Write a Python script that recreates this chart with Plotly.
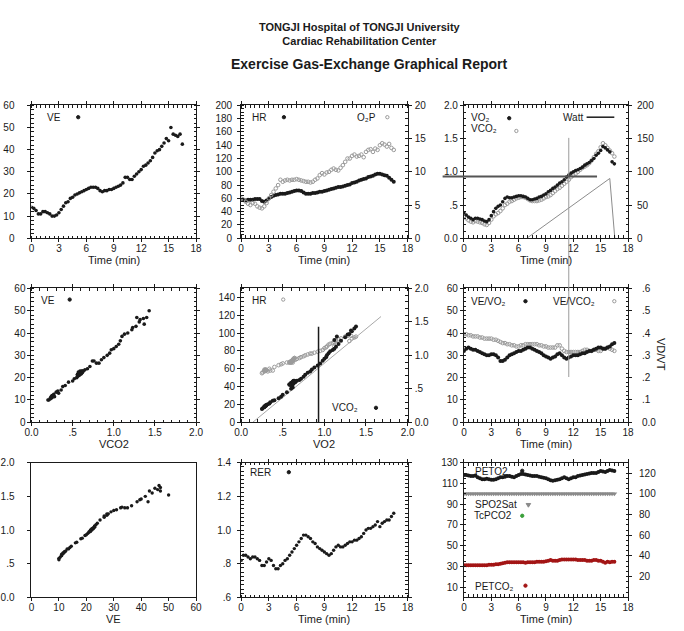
import plotly.graph_objects as go

time_min = [0, 0.25, 0.5, 0.75, 1, 1.25, 1.5, 1.75, 2, 2.25, 2.5, 2.75,
            3, 3.25, 3.5, 3.75, 4, 4.25, 4.5, 4.75, 5, 5.25, 5.5, 5.75,
            6, 6.25, 6.5, 6.75, 7, 7.25, 7.5, 7.75, 8, 8.25, 8.5, 8.75,
            9, 9.25, 9.5, 9.75, 10, 10.25, 10.5, 10.75, 11, 11.25, 11.5, 11.75,
            12, 12.25, 12.5, 12.75, 13, 13.25, 13.5, 13.75, 14, 14.25, 14.5, 14.75,
            15, 15.25, 15.5, 15.75, 16, 16.25, 16.5]

ve = [14, 13.5, 12.5, 11, 11, 12, 12, 11.5, 11, 10, 10, 10.5,
      11.5, 13, 14.5, 16, 16.5, 18, 18.5, 19.5, 20, 20.5, 21, 21.5,
      22, 22.5, 23, 23, 23, 22.5, 21.5, 21, 21.5, 21.5, 22, 22,
      22.5, 23, 23.5, 24, 25, 27.5, 27.5, 26.5, 26.5, 28, 29, 30,
      31, 32.5, 33, 34, 35, 36.5, 38.5, 39.5, 40, 41.5, 43, 45,
      44, 50, 47, 46.5, 46, 47, 42.5]

hr = [58, 58, 57, 58, 58, 58, 59, 59, 59, 56, 55, 57,
      60, 62, 64, 65, 66, 67, 67, 67, 68, 69, 70, 71,
      72, 72, 71, 69, 67, 67, 67, 68, 68, 69, 70, 70,
      71, 72, 73, 74, 75, 76, 77, 77, 78, 79, 80, 81,
      83, 84, 85, 87, 88, 89, 90, 92, 93, 94, 96, 97,
      97, 96, 95, 94, 91, 88, 85]

o2_pulse = [6.0, 5.8, 5.5, 5.2, 5.0, 5.3, 5.2, 4.8, 4.6, 4.5, 4.8, 5.3,
            6.0, 6.5, 7.0, 7.5, 8.0, 8.8, 8.5, 8.7, 8.8, 8.7, 8.8, 8.8,
            8.9, 8.8, 8.7, 8.6, 8.5, 8.5, 8.4, 8.5, 8.8, 9.0, 9.5, 9.8,
            9.6, 9.9, 10.0, 10.3, 10.5, 10.3, 10.2, 10.6, 11.0, 11.5, 12.0, 12.0,
            12.4, 12.6, 12.3, 12.4, 12.6, 12.2, 13.0, 13.3, 13.4, 13.0, 13.5, 13.3,
            14.0, 14.3, 14.1, 13.8, 14.2, 13.6, 13.3]

vo2 = [0.38, 0.35, 0.32, 0.30, 0.28, 0.30, 0.30, 0.29, 0.28, 0.26, 0.25, 0.28,
       0.34, 0.40, 0.45, 0.48, 0.50, 0.55, 0.60, 0.62, 0.61, 0.61, 0.62, 0.63,
       0.64, 0.64, 0.63, 0.62, 0.60, 0.58, 0.58, 0.59, 0.60, 0.62, 0.63, 0.65,
       0.67, 0.70, 0.72, 0.75, 0.77, 0.80, 0.83, 0.85, 0.88, 0.92, 0.95, 0.98,
       1.00, 1.02, 1.03, 1.05, 1.07, 1.10, 1.12, 1.14, 1.17, 1.20, 1.25, 1.28,
       1.32, 1.38, 1.36, 1.33, 1.30, 1.15, 1.12]

vco2 = [0.32, 0.30, 0.27, 0.25, 0.24, 0.26, 0.25, 0.24, 0.23, 0.21, 0.20, 0.23,
        0.28, 0.33, 0.36, 0.38, 0.41, 0.45, 0.50, 0.52, 0.55, 0.56, 0.58, 0.60,
        0.61, 0.62, 0.62, 0.61, 0.59, 0.57, 0.56, 0.56, 0.56, 0.57, 0.58, 0.60,
        0.62, 0.63, 0.65, 0.68, 0.71, 0.74, 0.76, 0.79, 0.82, 0.85, 0.88, 0.92,
        0.95, 0.97, 1.00, 1.03, 1.06, 1.08, 1.10, 1.13, 1.17, 1.22, 1.27, 1.31,
        1.37, 1.43, 1.40, 1.36, 1.32, 1.28, 1.23]

ve_vo2 = [32, 33, 33.5, 33, 32.5, 32.5, 32, 31.5, 31, 30.5, 30, 30,
          30.5, 30.5, 30, 29, 27.5, 27.5, 28, 29, 30, 30.5, 31, 31.5,
          32, 32, 32.5, 33, 33.5, 33.5, 33, 32.5, 32, 31.5, 31, 30,
          29.5, 29, 28.5, 29, 29.5, 30.5, 31, 30, 29, 28.5, 29, 29.5,
          30, 30, 30, 30.5, 31, 31, 31.5, 32, 32, 32.5, 33, 33.5,
          33.5, 33, 33, 33.5, 34, 35, 35.5]

ve_vco2 = [39.5, 39.5, 39, 39, 38.5, 38.5, 38.5, 38, 38, 37.5, 37.5, 37.5,
           37.5, 37, 37, 36.5, 36, 35.5, 35.5, 35, 35, 34.5, 34.5, 34,
           34, 34.5, 34.5, 35, 35, 35, 35, 35, 35, 34.5, 34.5, 34,
           34, 33.5, 33.5, 33.5, 33.5, 34.5, 34.5, 33, 32, 31.5, 31.5, 31.5,
           31.5, 31.5, 31.5, 31.5, 32, 32.5, 32.5, 32, 32, 32.5, 32.5, 32,
           32, 33, 33, 33.5, 33, 32.5, 32]

rer = [0.82, 0.85, 0.85, 0.84, 0.83, 0.84, 0.84, 0.83, 0.82, 0.79, 0.79, 0.81,
       0.83, 0.82, 0.79, 0.77, 0.77, 0.79, 0.80, 0.82, 0.83, 0.85, 0.87, 0.89,
       0.91, 0.93, 0.95, 0.97, 0.97, 0.96, 0.95, 0.93, 0.92, 0.90, 0.89, 0.88,
       0.87, 0.86, 0.85, 0.86, 0.88, 0.90, 0.91, 0.90, 0.90, 0.91, 0.92, 0.93,
       0.93, 0.94, 0.94, 0.95, 0.96, 0.98, 1.00, 1.01, 1.01, 1.02, 1.03, 1.05,
       1.02, 1.04, 1.05, 1.06, 1.06, 1.08, 1.10]

vt = [0.74, 0.72, 0.69, 0.63, 0.64, 0.67, 0.68, 0.66, 0.62, 0.58, 0.56, 0.60,
      0.65, 0.72, 0.76, 0.81, 0.82, 0.87, 0.88, 0.92, 0.93, 0.95, 0.97, 0.98,
      1.00, 1.02, 1.04, 1.06, 1.05, 1.03, 0.99, 0.97, 1.00, 0.99, 1.01, 1.02,
      1.03, 1.05, 1.08, 1.10, 1.15, 1.22, 1.24, 1.19, 1.21, 1.24, 1.27, 1.29,
      1.30, 1.33, 1.34, 1.33, 1.33, 1.36, 1.42, 1.45, 1.46, 1.50, 1.58, 1.62,
      1.55, 1.52, 1.63, 1.66, 1.60, 1.58, 1.42]

peto2 = [118, 118, 117.5, 117, 117, 117.5, 116, 115, 114, 114, 114.5, 114,
         113.5, 113.5, 114, 115, 116, 116, 116.5, 117, 117, 116.5, 116, 117,
         118, 119, 119, 118.5, 118, 117.5, 117, 117, 117, 116.5, 116, 115.5,
         115, 114, 113, 112.5, 113, 113.5, 114, 115, 116, 115, 114, 115,
         116, 116, 117, 117.5, 118, 118.5, 119, 119.5, 120, 120, 120, 121,
         122, 121.5, 121, 122, 123, 122.5, 122]

petco2 = [31, 31, 31, 31, 31, 31, 31, 31, 31, 31, 31, 31.5,
          31.5, 31.5, 32, 32, 32.5, 33, 33.5, 34, 34, 34, 34, 34,
          34, 34, 34, 33.5, 34, 34, 34, 34, 34.5, 34.5, 34.5, 34.5,
          35, 35.5, 36, 35.5, 35.5, 35.5, 36, 36.5, 36.5, 36.5, 36.5, 36.5,
          36.5, 36.5, 36, 36, 36, 36, 35.5, 35.5, 35.5, 36, 36, 35.5,
          35.5, 34.5, 33.5, 34.5, 34, 34.5, 34.5]

spo2 = [100, 100, 100, 100, 100, 100, 100, 100, 100, 100, 100, 100,
        100, 100, 100, 100, 100, 100, 100, 100, 100, 100, 100, 100,
        100, 100, 100, 100, 100, 100, 100, 100, 100, 100, 100, 100,
        100, 100, 100, 100, 100, 100, 100, 100, 100, 100, 100, 100,
        100, 100, 100, 100, 100, 100, 100, 100, 100, 100, 100, 100,
        100, 100, 100, 100, 100, 100, 100]

watt_time = [6.9, 16.0, 16.55]
watt = [0, 90, 0]

at_time = 11.5          # AT marker (min)
at_vo2 = 0.93           # VO2 at AT
at_marker_hr = 107      # top of AT marker on HR axis
hline_end_time = 14.6   # end of AT VO2 level line
diag_vo2 = [0.14, 1.68]
diag_vco2 = [0.0, 1.58]

time_ticks = [0, 3, 6, 9, 12, 15, 18]
dec_ticks = [0, 0.5, 1.0, 1.5, 2.0]
dec_text = ["0.0", ".5", "1.0", "1.5", "2.0"]

# ---------------- layout helpers ----------------
W, H = 684, 631
FONT = "Liberation Sans, Arial, sans-serif"
INK = "#1a1a1a"
GRAY = "#9a9a9a"
RED = "#a31515"


def fx(p):
    return p / W


def fy(p):
    return 1 - p / H


COLS = [(25, 193), (239, 409), (466.5, 634)]
ROWS = [(102, 237), (288, 424), (465, 602)]


def xdom(c):
    return [fx(COLS[c][0]), fx(COLS[c][1])]


def ydom(r):
    return [fy(ROWS[r][1]), fy(ROWS[r][0])]


def axis(domain, anchor, rng, vals, text=None, minor_dtick=None, side=None,
         overlaying=None, mirror="allticks", standoff=-2):
    a = dict(domain=domain, anchor=anchor, range=rng, tickmode="array",
             tickvals=vals, ticktext=text if text else [str(v) for v in vals],
             showgrid=False, zeroline=False, showline=True, linecolor=INK,
             linewidth=1, ticks="outside", ticklen=3, tickwidth=1, tickcolor=INK,
             tickfont=dict(family=FONT, size=10, color=INK), mirror=mirror,
             fixedrange=True, ticklabelstandoff=standoff)
    if minor_dtick:
        a["minor"] = dict(ticks="inside", ticklen=2.5, tickwidth=1,
                          tickcolor=INK, dtick=minor_dtick, tick0=rng[0],
                          showgrid=False)
    if side:
        a["side"] = side
    if overlaying:
        a["overlaying"] = overlaying
    return a


def pts(x, y, xa, ya, color, size=3.6, open_=False):
    if open_:
        marker = dict(symbol="circle-open", size=size, color=color,
                      line=dict(color=color, width=1))
    else:
        marker = dict(symbol="circle", size=size, color=color, line=dict(width=0))
    return go.Scatter(x=x, y=y, xaxis=xa, yaxis=ya, mode="markers",
                      marker=marker, showlegend=False, hoverinfo="skip")


fig = go.Figure()

# panel 1: VE vs time
fig.add_trace(pts(time_min, ve, "x", "y", INK))
# panel 2: HR and O2 pulse
fig.add_trace(pts(time_min, o2_pulse, "x2", "y3", GRAY, 3.6, True))
fig.add_trace(pts(time_min, hr, "x2", "y2", INK, 4))
# panel 3: VO2, VCO2, Watt
fig.add_trace(pts(time_min, vco2, "x3", "y4", GRAY, 3.6, True))
fig.add_trace(pts(time_min, vo2, "x3", "y4", INK))
fig.add_trace(go.Scatter(x=watt_time, y=watt, xaxis="x3", yaxis="y5", mode="lines",
                         line=dict(color="#8c8c8c", width=1), showlegend=False,
                         hoverinfo="skip"))
# panel 4: VE vs VCO2
fig.add_trace(pts(vco2, ve, "x4", "y6", INK))
# panel 5: HR vs VO2, VCO2 vs VO2
fig.add_trace(go.Scatter(x=diag_vo2, y=diag_vco2, xaxis="x5", yaxis="y8", mode="lines",
                         line=dict(color="#a8a8a8", width=1), showlegend=False,
                         hoverinfo="skip"))
fig.add_trace(pts(vo2, hr, "x5", "y7", GRAY, 3.6, True))
fig.add_trace(pts(vo2, vco2, "x5", "y8", INK, 4))
# panel 6: ventilatory equivalents
fig.add_trace(pts(time_min, ve_vco2, "x6", "y9", GRAY, 3.6, True))
fig.add_trace(pts(time_min, ve_vo2, "x6", "y9", INK, 4))
fig.add_trace(go.Scatter(x=[None], y=[None], xaxis="x6", yaxis="y10", mode="markers",
                         showlegend=False, hoverinfo="skip"))
# panel 7: VT vs VE
fig.add_trace(pts(ve, vt, "x7", "y11", INK, 3.4))
# panel 8: RER
fig.add_trace(pts(time_min, rer, "x8", "y12", INK, 3.4))
# panel 9: PETO2, SpO2, PETCO2
fig.add_trace(go.Scatter(x=time_min, y=spo2, xaxis="x9", yaxis="y14", mode="markers",
                         marker=dict(symbol="triangle-down", size=5, color="#8a8a8a"),
                         showlegend=False, hoverinfo="skip"))
fig.add_trace(pts(time_min, peto2, "x9", "y13", INK, 4))
fig.add_trace(pts(time_min, petco2, "x9", "y13", RED, 4))

layout = dict(
    xaxis=axis(xdom(0), "y", [0, 18], time_ticks, minor_dtick=0.5),
    yaxis=axis(ydom(0), "x", [0, 60], [0, 10, 20, 30, 40, 50, 60], minor_dtick=2, standoff=11),
    xaxis2=axis(xdom(1), "y2", [0, 18], time_ticks, minor_dtick=0.5),
    yaxis2=axis(ydom(0), "x2", [0, 200], list(range(0, 201, 20)), minor_dtick=5,
                mirror=False, standoff=3),
    yaxis3=axis(ydom(0), "x2", [0, 20], [0, 5, 10, 15, 20], minor_dtick=1, side="right",
                overlaying="y2", mirror=False, standoff=1),
    xaxis3=axis(xdom(2), "y4", [0, 18], time_ticks, minor_dtick=0.5),
    yaxis4=axis(ydom(0), "x3", [0, 2], dec_ticks, dec_text, minor_dtick=0.1, mirror=False, standoff=0),
    yaxis5=axis(ydom(0), "x3", [0, 200], [0, 50, 100, 150, 200], minor_dtick=10, side="right",
                overlaying="y4", mirror=False, standoff=3),
    xaxis4=axis(xdom(0), "y6", [0, 2], dec_ticks, dec_text, minor_dtick=0.1),
    yaxis6=axis(ydom(1), "x4", [0, 60], [0, 10, 20, 30, 40, 50, 60], minor_dtick=2, standoff=0),
    xaxis5=axis(xdom(1), "y7", [0, 2], dec_ticks, dec_text, minor_dtick=0.1),
    yaxis7=axis(ydom(1), "x5", [0, 150], list(range(0, 141, 20)), minor_dtick=5,
                mirror=False, standoff=0),
    yaxis8=axis(ydom(1), "x5", [0, 2], dec_ticks, dec_text, minor_dtick=0.1, side="right",
                overlaying="y7", mirror=False, standoff=1),
    xaxis6=axis(xdom(2), "y9", [0, 18], time_ticks, minor_dtick=0.5),
    yaxis9=axis(ydom(1), "x6", [0, 60], [0, 10, 20, 30, 40, 50, 60], minor_dtick=2,
                mirror=False, standoff=0),
    yaxis10=axis(ydom(1), "x6", [0, 0.6], [0, 0.1, 0.2, 0.3, 0.4, 0.5, 0.6],
                 ["0.0", ".1", ".2", ".3", ".4", ".5", ".6"], minor_dtick=0.02,
                 side="right", overlaying="y9", mirror=False, standoff=8),
    xaxis7=axis(xdom(0), "y11", [0, 60], [0, 10, 20, 30, 40, 50, 60], mirror=True),
    yaxis11=axis(ydom(2), "x7", [0, 2], dec_ticks, dec_text, mirror=True, standoff=11),
    xaxis8=axis(xdom(1), "y12", [0, 18], time_ticks, minor_dtick=0.5),
    yaxis12=axis(ydom(2), "x8", [0.6, 1.4], [0.6, 0.8, 1.0, 1.2, 1.4],
                 [".6", ".8", "1.0", "1.2", "1.4"], minor_dtick=0.025, standoff=4),
    xaxis9=axis(xdom(2), "y13", [0, 18], time_ticks, minor_dtick=0.5),
    yaxis13=axis(ydom(2), "x9", [0, 130], [10, 30, 50, 70, 90, 110, 130], minor_dtick=5,
                 mirror=False, standoff=0),
    yaxis14=axis(ydom(2), "x9", [0, 130], [20, 40, 60, 80, 100, 120], minor_dtick=5,
                 side="right", overlaying="y13", mirror=False, standoff=5),
)

# ---------------- reference lines ----------------
shapes = [
    # AT vertical marker spanning panels 3 and 6
    dict(type="line", xref="x3", yref="paper", x0=at_time, x1=at_time,
         y0=fy(378), y1=fy(135), line=dict(color="#9a9a9a", width=1)),
    # VO2 level at AT in panel 3
    dict(type="line", xref="x3 domain", yref="y4", x0=-0.13, x1=hline_end_time / 18,
         y0=at_vo2, y1=at_vo2, line=dict(color="#555555", width=2)),
    # AT marker in panel 5
    dict(type="line", xref="x5", yref="y7", x0=at_vo2, x1=at_vo2, y0=0, y1=at_marker_hr,
         line=dict(color=INK, width=1.5)),
]

annotations = []


def label(x, y, text, size=10, **kw):
    annotations.append(dict(x=fx(x), y=fy(y), xref="paper", yref="paper", text=text,
                            showarrow=False, xanchor=kw.get("xanchor", "left"),
                            yanchor="middle", textangle=kw.get("angle", 0),
                            font=dict(family=FONT, size=size, color=INK)))


def dot(x, y, color, r=1.7, open_=False):
    shapes.append(dict(type="circle", xref="paper", yref="paper",
                       x0=fx(x - r), x1=fx(x + r), y0=fy(y + r), y1=fy(y - r),
                       line=dict(color=color, width=1),
                       fillcolor="white" if open_ else color))


# titles
label(360, 29.5, "<b>TONGJI Hospital of TONGJI University</b><br>"
      "<b>Cardiac Rehabilitation Center</b>", 11, xanchor="center")
label(370.5, 60, "<b>Exercise Gas-Exchange Graphical Report</b>", 14, xanchor="center")

# axis titles (centred under each panel)
for c, r, t in [(0, 0, "Time (min)"), (1, 0, "Time (min)"), (2, 0, "Time (min)"),
                (0, 1, "VCO2"), (1, 1, "VO2"), (2, 1, "Time (min)"),
                (0, 2, "VE"), (1, 2, "Time (min)"), (2, 2, "Time (min)")]:
    label((COLS[c][0] + COLS[c][1]) / 2, ROWS[r][1] + 22, t, 11, xanchor="center")

# in-panel legends
label(39, 114, "VE"); dot(72.7, 114, INK)
label(248, 114, "HR"); dot(282.7, 114, INK)
label(355, 114, "O₂P"); dot(388.3, 114, GRAY, open_=True)
label(472, 114, "VO₂"); dot(512.7, 115, INK)
label(472, 125, "VCO₂"); dot(520, 128, GRAY, open_=True)
label(566, 114, "Watt")
shapes.append(dict(type="line", xref="paper", yref="paper", x0=fx(591.7), x1=fx(620),
                   y0=fy(114), y1=fy(114), line=dict(color=INK, width=1.5)))
label(33, 300, "VE"); dot(64, 299.3, INK)
label(248, 300, "HR"); dot(282, 299.3, GRAY, open_=True)
label(330, 408.5, "VCO₂"); dot(376.7, 409.3, INK)
label(472, 301, "VE/VO₂"); dot(529.3, 301, INK)
label(555, 301, "VE/VCO₂"); dot(620, 301, GRAY, open_=True)
label(667, 355, "VD/VT", 11, xanchor="center", angle=90)
label(246, 475, "RER"); dot(287.7, 474.7, INK)
label(476, 474, "PETO2"); dot(526, 473.3, INK)
label(476, 507.5, "SPO2Sat")
shapes.append(dict(type="path", xref="paper", yref="paper",
                   path=f"M {fx(530)},{fy(506.5)} L {fx(534.6)},{fy(506.5)} L {fx(532.3)},{fy(510.3)} Z",
                   line=dict(color="#8a8a8a", width=1), fillcolor="#8a8a8a"))
label(475, 519, "TcPCO2"); dot(526, 519, "#3aa03a")
label(476, 591, "PETCO₂"); dot(529.3, 590, RED)

fig.update_layout(
    width=W, height=H, margin=dict(l=0, r=0, t=0, b=0),
    paper_bgcolor="white", plot_bgcolor="white", showlegend=False,
    font=dict(family=FONT, size=10, color=INK),
    shapes=shapes, annotations=annotations, **layout)

fig.write_html("out.html", config={"displayModeBar": False},
               post_script="document.body.style.margin='0';document.body.style.overflow='hidden';")
